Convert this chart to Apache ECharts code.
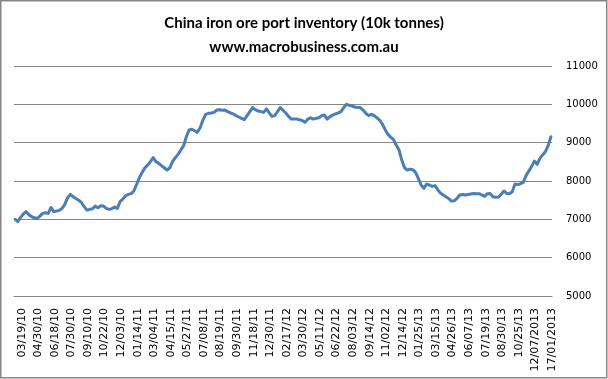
<!DOCTYPE html>
<html>
<head>
<meta charset="utf-8">
<script src="https://cdn.jsdelivr.net/npm/echarts@6/dist/echarts.min.js"></script>
<style>
html,body{margin:0;padding:0;background:#fff;}
#chart{width:608px;height:379px;}
</style>
</head>
<body>
<div id="chart"></div>
<script>
// Tick labels on the category axis (one every 6 weekly observations)
const tickLabels = ["03/19/10","04/30/10","06/18/10","07/30/10","09/10/10","10/22/10","12/03/10",
  "01/14/11","03/04/11","04/15/11","05/27/11","07/08/11","08/19/11","09/30/11","11/18/11","12/30/11",
  "02/17/12","03/30/12","05/11/12","06/22/12","08/03/12","09/14/12","11/02/12","12/14/12",
  "01/25/13","03/15/13","04/26/13","06/07/13","07/19/13","08/30/13","10/25/13","12/07/2013","17/01/2013"];

const inv2010 = [7000,6940,7050,7140,7200,7120,7070,7040,7025,7085,7155,7170,7155,7310,7200,7215,
  7235,7285,7390,7565,7650,7590,7545,7500,7440,7330,7240,7260,7275,7345,7300,7355,7345,7285,7260,7275,
  7320,7285,7460];
const inv2011 = [7530,7615,7650,7670,7740,7910,8085,8225,8345,8415,8505,8610,8505,8460,8400,8345,8285,
  8345,8505,8610,8695,8810,8915,9155,9330,9350,9310,9270,9390,9590,9740,9765,9775,9790,9850,9860,9845,
  9850,9810,9775,9750,9705,9670,9635,9600,9705,9810,9915,9860,9825,9810,9790,9880,9775,9685,9705,9810];
const inv2012 = [9915,9845,9775,9685,9615,9615,9615,9600,9575,9530,9615,9650,9615,9635,9650,9705,9720,
  9615,9680,9720,9750,9775,9810,9915,10000,9975,9955,9930,9915,9915,9850,9765,9705,9740,9705,9650,9590,
  9480,9340,9215,9145,9080,8940,8810,8545,8345,8285,8310,8295,8225];
const inv2013 = [8070,7895,7810,7920,7895,7860,7880,7775,7685,7635,7590,7540,7475,7485,7545,7635,7650,
  7635,7650,7660,7675,7670,7670,7635,7600,7670,7675,7590,7575,7580,7650,7740,7675,7670,7720,7920,7910,
  7930,7965,8140,8260,8375,8520,8435,8590,8680,8765,8920,9155];

const values = inv2010.concat(inv2011, inv2012, inv2013);
const seriesData = values.map((v, i) => [i, v]);
const labelStep = 6, labelOffset = 2.4;
const labelPositions = tickLabels.map((_, k) => labelOffset + labelStep * k);

const axisFont = '"DejaVu Sans", Verdana, sans-serif';
const titleFont = 'Lato, sans-serif';

const chart = echarts.init(document.getElementById('chart'), null, {renderer: 'canvas'});
chart.setOption({
  animation: false,
  backgroundColor: '#ffffff',
  title: [
    {text: 'China iron ore port inventory (10k tonnes)', left: 'center', top: 14, padding: 0,
     textStyle: {fontFamily: titleFont, fontWeight: 'bold', fontSize: 15, color: '#000', lineHeight: 18}},
    {text: 'www.macrobusiness.com.au', left: 'center', top: 38, padding: 0,
     textStyle: {fontFamily: titleFont, fontWeight: 'bold', fontSize: 15, color: '#000', lineHeight: 18}}
  ],
  graphic: [{
    type: 'rect', silent: true, z: 100,
    shape: {x: 0.75, y: 0.75, width: 606, height: 377},
    style: {fill: 'none', stroke: '#868686', lineWidth: 1.5}
  }],
  grid: {left: 14, right: 56, top: 66, bottom: 83, containLabel: false},
  xAxis: {
    type: 'value', min: -0.4, max: 194.4,
    axisLine: {show: true, lineStyle: {color: '#868686', width: 1}},
    axisTick: {show: false},
    splitLine: {show: false},
    axisLabel: {
      customValues: labelPositions,
      rotate: 90, margin: 12,
      fontFamily: axisFont, fontSize: 11, color: '#000',
      formatter: v => tickLabels[Math.round((v - labelOffset) / labelStep)] || ''
    }
  },
  yAxis: {
    type: 'value', position: 'right', min: 5000, max: 11000, interval: 1000,
    axisLine: {show: false}, axisTick: {show: false},
    splitLine: {show: true, lineStyle: {color: '#868686', width: 1}},
    axisLabel: {margin: 14, fontFamily: axisFont, fontSize: 10, color: '#000',
      formatter: v => String(v)}
  },
  series: [{
    type: 'line', data: seriesData, showSymbol: false, smooth: false,
    lineStyle: {color: '#4a7ebb', width: 3, cap: 'round', join: 'round'}
  }]
});
</script>
</body>
</html>
